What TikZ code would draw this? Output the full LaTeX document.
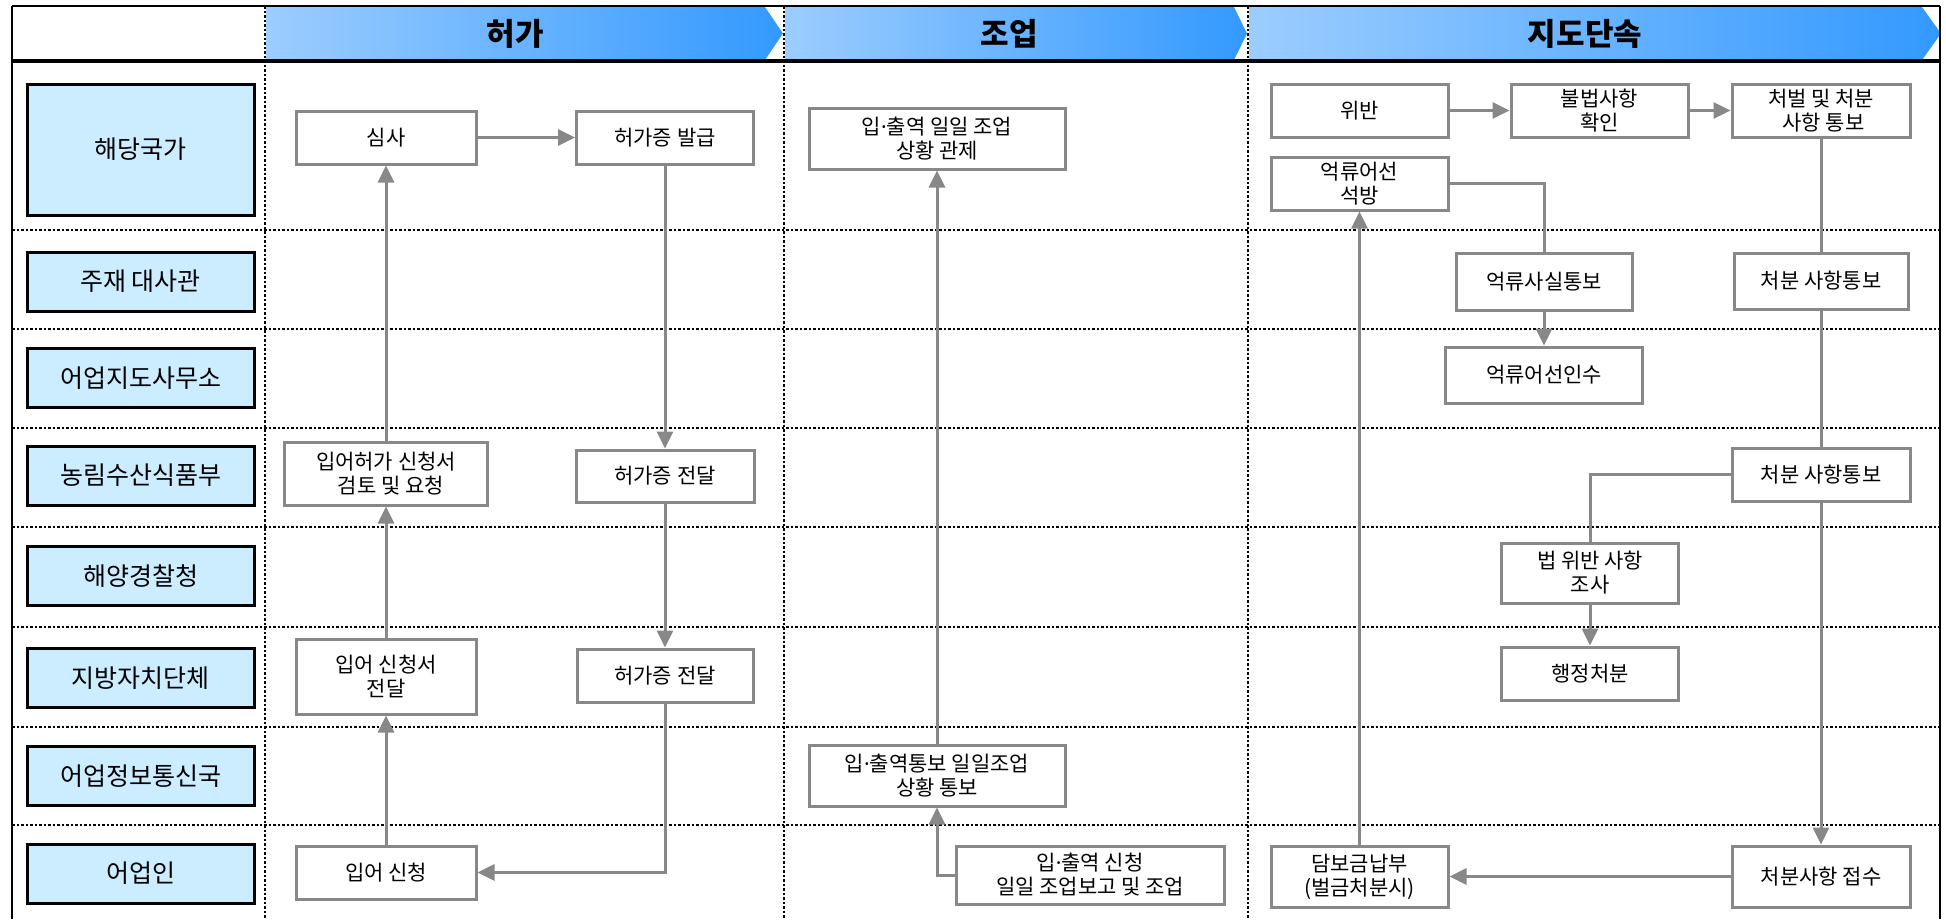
\documentclass[tikz,border=0pt]{standalone}
\usepackage{fontspec}
\setmainfont{Noto Sans CJK KR}
\newfontfamily\dotfont{Noto Sans}
\newcommand{\mdot}{{\dotfont ·}}
\usetikzlibrary{arrows.meta}
\definecolor{lanefill}{HTML}{CCECFF}
\definecolor{boxline}{HTML}{888888}
\definecolor{hdrL}{HTML}{9CCDFF}
\definecolor{hdrR}{HTML}{3399FF}
\begin{document}
\begin{tikzpicture}[x=1pt,y=-1pt,
  lanebox/.style={draw=black, line width=3pt, fill=lanefill, minimum width=227pt, minimum height=59pt, inner sep=0pt, font=\fontsize{25}{29}\selectfont},
  pbox/.style={draw=boxline, line width=3pt, fill=white, align=center, inner sep=0pt, font=\fontsize{21}{24}\selectfont},
  flow/.style={draw=boxline, line width=3pt, -{Triangle[width=16pt,length=17pt]}},
  link/.style={draw=boxline, line width=3pt},
  divider/.style={line width=2.5pt, dash pattern=on 2.5pt off 2pt},
  frame/.style={line width=2pt, draw=black},
  hdrtext/.style={font=\fontsize{31}{35}\selectfont\bfseries}
]
\useasboundingbox (0,0) rectangle (1946,919);

% header chevrons
\shade[left color=hdrL, right color=hdrR] (266,7) -- (765,7) -- (783,33.5) -- (765,60) -- (266,60) -- cycle;
\shade[left color=hdrL, right color=hdrR] (785,7) -- (1234,7) -- (1247,33.5) -- (1234,60) -- (785,60) -- cycle;
\shade[left color=hdrL, right color=hdrR] (1249,7) -- (1922,7) -- (1941,33.5) -- (1922,60) -- (1249,60) -- cycle;
\node[hdrtext] (hdr1) at (515,34) {허가};
\node[hdrtext] (hdr2) at (1009,34) {조업};
\node[hdrtext] (hdr3) at (1585,34) {지도단속};

% frame
\draw[frame] (12,6) -- (1940,6);
\draw[frame] (12,6) -- (12,919);
\draw[frame] (1940,6) -- (1940,919);
\draw[line width=3.5pt] (12,61) -- (1940,61);

% row dividers
\foreach \yy in {230,329,428,527,627,727,825}
  \draw[divider] (12,\yy) -- (1940,\yy);
% column dividers
\foreach \xx in {265,784,1248}
  \draw[divider] (\xx,6) -- (\xx,919);

% lane labels
\node[lanebox, minimum height=131pt] (l1) at (140.5,149.5) {해당국가};
\node[lanebox] (l2) at (140.5,281.5) {주재 대사관};
\node[lanebox] (l3) at (140.5,378) {어업지도사무소};
\node[lanebox] (l4) at (140.5,475.5) {농림수산식품부};
\node[lanebox] (l5) at (140.5,576) {해양경찰청};
\node[lanebox] (l6) at (140.5,678) {지방자치단체};
\node[lanebox] (l7) at (140.5,776) {어업정보통신국};
\node[lanebox] (l8) at (140.5,873.5) {어업인};

% column 1: 허가
\node[pbox, minimum width=180pt, minimum height=53pt] (sim) at (386,137.5) {심사};
\node[pbox, minimum width=177pt, minimum height=53pt] (balgeup) at (665,137.5) {허가증 발급};
\node[pbox, minimum width=203pt, minimum height=63pt] (geomto) at (386,473.5) {입어허가 신청서\\\ \ 검토 및 요청};
\node[pbox, minimum width=178pt, minimum height=52pt] (jeondal1) at (665,476) {허가증 전달};
\node[pbox, minimum width=180pt, minimum height=75pt] (sinseo) at (386,676.5) {입어 신청서\\전달};
\node[pbox, minimum width=176pt, minimum height=53pt] (jeondal2) at (665,675.5) {허가증 전달};
\node[pbox, minimum width=180pt, minimum height=53pt] (sincheong) at (386,872.5) {입어 신청};

\draw[flow] (sincheong.north) -- (sinseo.south);
\draw[flow] (sinseo.north) -- (geomto.south);
\draw[flow] (geomto.north) -- (sim.south);
\draw[flow] (sim.east) -- (balgeup.west);
\draw[flow] (balgeup.south) -- (jeondal1.north);
\draw[flow] (jeondal1.south) -- (jeondal2.north);
\draw[flow] (jeondal2.south) |- (sincheong.east);

% column 2: 조업
\node[pbox, minimum width=256pt, minimum height=61pt] (gwanje) at (937,138.5) {입\mdot 출역 일일 조업\\상황 관제};
\node[pbox, minimum width=256pt, minimum height=61pt] (tongbo) at (937,775.5) {입\mdot 출역통보 일일조업\\상황 통보};
\node[pbox, minimum width=268pt, minimum height=58pt] (ipchul) at (1090,875) {입\mdot 출역 신청\\일일 조업보고 및 조업};

\draw[flow] (ipchul.west) -| (tongbo.south);
\draw[flow] (tongbo.north) -- (gwanje.south);

% column 3: 지도단속
\node[pbox, minimum width=177pt, minimum height=53pt] (wiban) at (1359.5,110.5) {위반};
\node[pbox, minimum width=177pt, minimum height=53pt] (bulbeop) at (1599.5,110.5) {불법사항\\확인};
\node[pbox, minimum width=178pt, minimum height=53pt] (cheobeol) at (1821,110.5) {처벌 및 처분\\\ 사항 통보};
\node[pbox, minimum width=177pt, minimum height=53pt] (seokbang) at (1359.5,183.5) {억류어선\\석방};
\node[pbox, minimum width=176pt, minimum height=57pt] (eokryu) at (1544,281.5) {억류사실통보};
\node[pbox, minimum width=197pt, minimum height=56pt] (insu) at (1544,375) {억류어선인수};
\node[pbox, minimum width=174pt, minimum height=56pt] (cheobun1) at (1821,281) {처분 사항통보};
\node[pbox, minimum width=178pt, minimum height=53pt] (cheobun2) at (1821,474.5) {처분 사항통보};
\node[pbox, minimum width=177pt, minimum height=60pt] (beop) at (1590,573) {법 위반 사항\\조사};
\node[pbox, minimum width=177pt, minimum height=53pt] (haengjeong) at (1590,673.5) {행정처분};
\node[pbox, minimum width=178pt, minimum height=61pt] (jeopsu) at (1821,876.5) {처분사항 접수};
\node[pbox, minimum width=177pt, minimum height=61pt] (dambo) at (1359.5,876.5) {담보금납부\\(벌금처분시)};

\draw[flow] (wiban.east) -- (bulbeop.west);
\draw[flow] (bulbeop.east) -- (cheobeol.west);
\draw[link] (seokbang.east) -| (eokryu.north);
\draw[flow] (eokryu.south) -- (insu.north);
\draw[link] (cheobeol.south) -- (cheobun1.north);
\draw[link] (cheobun1.south) -- (cheobun2.north);
\draw[link] (cheobun2.west) -| (beop.north);
\draw[flow] (beop.south) -- (haengjeong.north);
\draw[flow] (cheobun2.south) -- (jeopsu.north);
\draw[flow] (jeopsu.west) -- (dambo.east);
\draw[flow] (dambo.north) -- (seokbang.south);
\end{tikzpicture}
\end{document}
